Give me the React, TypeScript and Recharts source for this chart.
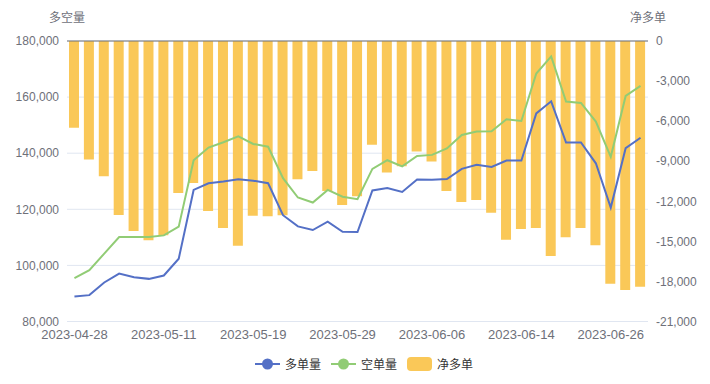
import React from 'react';
import { ComposedChart, Bar, Line, XAxis, YAxis, CartesianGrid, Legend, ReferenceLine } from 'recharts';

const dates = ['2023-04-28','2023-05-04','2023-05-05','2023-05-08','2023-05-09','2023-05-10','2023-05-11','2023-05-12','2023-05-15','2023-05-16','2023-05-17','2023-05-18','2023-05-19','2023-05-22','2023-05-23','2023-05-24','2023-05-25','2023-05-26','2023-05-29','2023-05-30','2023-05-31','2023-06-01','2023-06-02','2023-06-05','2023-06-06','2023-06-07','2023-06-08','2023-06-09','2023-06-12','2023-06-13','2023-06-14','2023-06-15','2023-06-16','2023-06-19','2023-06-20','2023-06-21','2023-06-26','2023-06-27','2023-06-28'];

const longVol = [88900, 89400, 93900, 97100, 95800, 95200, 96400, 102400, 126900, 129300, 129900, 130700, 130200, 129300, 117900, 113900, 112600, 115600, 112000, 111900, 126700, 127600, 126200, 130600, 130500, 130800, 134400, 135900, 135100, 137400, 137400, 154200, 158500, 143800, 143800, 136400, 120600, 141800, 145500];

const shortVol = [95500, 98300, 104200, 110100, 110100, 110100, 110700, 113800, 137500, 142000, 143900, 146000, 143300, 142300, 131100, 124200, 122400, 126900, 124500, 123600, 134400, 137500, 135300, 139000, 139400, 141700, 146500, 147700, 147800, 152100, 151500, 168400, 174500, 158400, 157900, 151300, 138700, 160400, 164000];

const netLong = [-6500, -8875, -10125, -13025, -14225, -14925, -14550, -11375, -10625, -12725, -14000, -15325, -13075, -13125, -13050, -10350, -9725, -11225, -12275, -11625, -7775, -9850, -9375, -8275, -9025, -11225, -12050, -11900, -12850, -14875, -14075, -14000, -16100, -14700, -14000, -15300, -18175, -18650, -18400];

const leftTicks = [80000, 100000, 120000, 140000, 160000, 180000];
const rightTicks = [-21000, -18000, -15000, -12000, -9000, -6000, -3000, 0];

const seriesNames = { long: '多单量', short: '空单量', net: '净多单' };
const axisNames = { left: '多空量', right: '净多单' };

const data = dates.map((d, i) => ({ date: d, long: longVol[i], short: shortVol[i], net: netLong[i] }));

const FONT = "'Liberation Sans', Arial, 'Noto Sans CJK SC', sans-serif";
const AXIS_COLOR = '#6E7079';
const BLUE = '#5470C6';
const GREEN = '#91CC75';
const YELLOW = '#FAC858';

const fmt = (v: number) => v.toLocaleString('en-US');

const renderLegend = () => {
  const items = [
    { name: seriesNames.long, color: BLUE, type: 'line' },
    { name: seriesNames.short, color: GREEN, type: 'line' },
    { name: seriesNames.net, color: YELLOW, type: 'rect' },
  ];
  return (
    <div style={{ display: 'flex', justifyContent: 'center', alignItems: 'center', height: 24, fontFamily: FONT, fontSize: 12, color: '#333', paddingLeft: 28 }}>
      {items.map((it) => (
        <div key={it.name} style={{ display: 'flex', alignItems: 'center', marginRight: 10 }}>
          <svg width={25} height={14} style={{ marginRight: 5 }}>
            {it.type === 'line' ? (
              <g>
                <line x1={0} y1={7} x2={25} y2={7} stroke={it.color} strokeWidth={2} />
                <circle cx={12.5} cy={7} r={5.5} fill={it.color} />
              </g>
            ) : (
              <rect x={0} y={0} width={25} height={14} rx={4} ry={4} fill={it.color} />
            )}
          </svg>
          <span>{it.name}</span>
        </div>
      ))}
    </div>
  );
};

const LeftTitle = (props: any) => {
  const { viewBox } = props;
  return (
    <text x={viewBox.x + viewBox.width} y={viewBox.y - 19} textAnchor="middle" fontSize={12} fill={AXIS_COLOR} fontFamily={FONT}>
      {axisNames.left}
    </text>
  );
};

const RightTitle = (props: any) => {
  const { viewBox } = props;
  return (
    <text x={viewBox.x} y={viewBox.y - 19} textAnchor="middle" fontSize={12} fill={AXIS_COLOR} fontFamily={FONT}>
      {axisNames.right}
    </text>
  );
};

export default function App() {
  return (
    <div style={{ width: 694, height: 370, fontFamily: FONT }}>
      <ComposedChart width={694} height={370} data={data} margin={{ top: 33, right: 0, bottom: 2.5, left: 0 }}>
        <CartesianGrid yAxisId="left" vertical={false} stroke="#E0E6F1" />
        <XAxis
          dataKey="date"
          interval={5}
          axisLine={false}
          tickLine={false}
          height={30}
          tick={{ fontSize: 13, fill: AXIS_COLOR, fontFamily: FONT }}
        />
        <YAxis
          yAxisId="left"
          orientation="left"
          domain={[80000, 180000]}
          ticks={leftTicks}
          tickFormatter={fmt}
          axisLine={false}
          tickLine={false}
          width={59}
          tick={{ fontSize: 12, fill: AXIS_COLOR, fontFamily: FONT }}
          label={<LeftTitle />}
        />
        <YAxis
          yAxisId="right"
          orientation="right"
          domain={[-21000, 0]}
          ticks={rightTicks}
          tickFormatter={fmt}
          axisLine={false}
          tickLine={false}
          width={54}
          tick={{ fontSize: 12, fill: AXIS_COLOR, fontFamily: FONT }}
          label={<RightTitle />}
        />
        <Bar yAxisId="right" dataKey="net" name={seriesNames.net} fill={YELLOW} barSize={10} isAnimationActive={false} />
        <ReferenceLine yAxisId="right" y={0} stroke={AXIS_COLOR} strokeWidth={1} />
        <Line yAxisId="left" type="linear" dataKey="long" name={seriesNames.long} stroke={BLUE} strokeWidth={2} dot={false} activeDot={false} isAnimationActive={false} />
        <Line yAxisId="left" type="linear" dataKey="short" name={seriesNames.short} stroke={GREEN} strokeWidth={2} dot={false} activeDot={false} isAnimationActive={false} />
        <Legend verticalAlign="bottom" content={renderLegend} wrapperStyle={{ height: 24 }} />
      </ComposedChart>
    </div>
  );
}
